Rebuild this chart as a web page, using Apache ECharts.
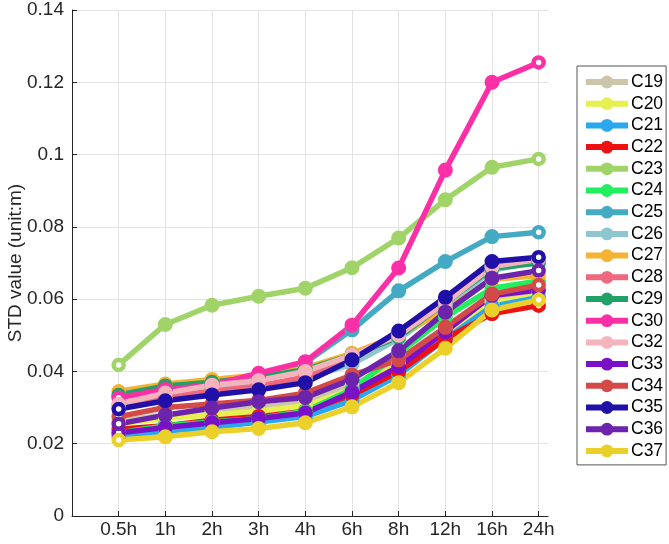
<!DOCTYPE html>
<html>
<head>
<meta charset="utf-8">
<script src="https://cdn.jsdelivr.net/npm/echarts@6/dist/echarts.min.js"></script>
<style>
	html, body { margin: 0; padding: 0; background: #fff; }
	#chart { width: 669px; height: 544px; }
</style>
</head>
<body>
<div id="chart"></div>
<script>
	// x labels (plotted at positions 1..10)
	var hours = ['0.5h', '1h', '2h', '3h', '4h', '6h', '8h', '12h', '16h', '24h'];
	var names = ['C19', 'C20', 'C21', 'C22', 'C23', 'C24', 'C25', 'C26', 'C27',
		'C28', 'C29', 'C30', 'C32', 'C33', 'C34', 'C35', 'C36', 'C37'];
	var colors = ['#cdc5a9', '#e6f04e', '#2aa8ee', '#ee1111', '#a0d468', '#22ee5e', '#44aac4', '#8ec6d0', '#f5b233',
		'#f0687e', '#22a06a', '#fc2fa6', '#f4b4bc', '#7a10c8', '#d44a48', '#2010a8', '#6b24ab', '#ecd02a'];

	var C19 = [0.0262, 0.0280, 0.0290, 0.0300, 0.0315, 0.0360, 0.0430, 0.0520, 0.0600, 0.0620];
	var C20 = [0.0255, 0.0270, 0.0280, 0.0290, 0.0305, 0.0350, 0.0420, 0.0510, 0.0590, 0.0610];
	var C21 = [0.0220, 0.0235, 0.0245, 0.0260, 0.0275, 0.0320, 0.0390, 0.0490, 0.0580, 0.0605];
	var C22 = [0.0240, 0.0250, 0.0265, 0.0275, 0.0290, 0.0335, 0.0400, 0.0490, 0.0560, 0.0582];
	var C23 = [0.0418, 0.0530, 0.0583, 0.0608, 0.0630, 0.0687, 0.0769, 0.0875, 0.0965, 0.0988];
	var C24 = [0.0230, 0.0250, 0.0260, 0.0270, 0.0290, 0.0350, 0.0450, 0.0550, 0.0630, 0.0650];
	var C25 = [0.0330, 0.0355, 0.0370, 0.0390, 0.0425, 0.0515, 0.0623, 0.0704, 0.0773, 0.0785];
	var C26 = [0.0310, 0.0330, 0.0350, 0.0360, 0.0380, 0.0420, 0.0490, 0.0580, 0.0680, 0.0705];
	var C27 = [0.0345, 0.0365, 0.0378, 0.0390, 0.0410, 0.0450, 0.0500, 0.0570, 0.0655, 0.0665];
	var C28 = [0.0300, 0.0330, 0.0345, 0.0360, 0.0385, 0.0435, 0.0505, 0.0595, 0.0690, 0.0705];
	var C29 = [0.0335, 0.0360, 0.0370, 0.0385, 0.0405, 0.0445, 0.0495, 0.0590, 0.0685, 0.0700];
	var C30 = [0.0327, 0.0350, 0.0362, 0.0395, 0.0427, 0.0528, 0.0686, 0.0957, 0.1200, 0.1255];
	var C32 = [0.0310, 0.0340, 0.0362, 0.0375, 0.0400, 0.0445, 0.0500, 0.0590, 0.0690, 0.0710];
	var C33 = [0.0230, 0.0245, 0.0258, 0.0270, 0.0285, 0.0343, 0.0413, 0.0510, 0.0610, 0.0625];
	var C34 = [0.0275, 0.0300, 0.0310, 0.0320, 0.0340, 0.0390, 0.0432, 0.0522, 0.0614, 0.0639];
	var C35 = [0.0296, 0.0319, 0.0335, 0.0349, 0.0369, 0.0432, 0.0512, 0.0605, 0.0704, 0.0716];
	var C36 = [0.0255, 0.0279, 0.0299, 0.0316, 0.0328, 0.0378, 0.0457, 0.0564, 0.0658, 0.0679];
	var C37 = [0.0210, 0.0219, 0.0233, 0.0242, 0.0258, 0.0302, 0.0369, 0.0464, 0.0570, 0.0598];

	var allData = [C19, C20, C21, C22, C23, C24, C25, C26, C27,
		C28, C29, C30, C32, C33, C34, C35, C36, C37];

	var font = 'Liberation Sans, Arial, Helvetica, sans-serif';
	var dark = '#262626';

	function makeSeries(i) {
		var vals = allData[i];
		var data = vals.map(function (v, k) {
			var item = { value: [k + 1, v] };
			// first and last markers are drawn as rings (white fill, thick coloured edge)
			if (k === 0 || k === vals.length - 1) {
				item.symbolSize = 10;
				item.itemStyle = { color: '#fff' };
			}
			return item;
		});
		return {
			name: names[i],
			type: 'line',
			data: data,
			symbol: 'circle',
			symbolSize: 10.5,
			color: colors[i],
			lineStyle: { width: 5.5, color: colors[i] },
			itemStyle: { color: colors[i], borderColor: colors[i], borderWidth: 4.5 },
			animation: false
		};
	}

	var series = [];
	for (var i = 0; i < names.length; i++) {
		series.push(makeSeries(i));
	}

	var chart = echarts.init(document.getElementById('chart'));
	chart.setOption({
		backgroundColor: '#fff',
		animation: false,
		grid: { left: 72, top: 10, right: 121, bottom: 28, outerBoundsMode: 'none', containLabel: false },
		legend: {
			orient: 'vertical',
			left: 577,
			top: 66,
			itemWidth: 42,
			itemHeight: 16,
			itemGap: 3.7,
			padding: [7, 3, 5, 6],
			borderColor: '#555',
			borderWidth: 1,
			lineStyle: { width: 6 },
			itemStyle: { borderWidth: 0 },
			textStyle: { fontFamily: font, fontSize: 17.5, color: '#000', padding: [0, 0, 0, -2] },
			data: names
		},
		xAxis: {
			type: 'value',
			min: 0,
			max: 10.2,
			interval: 1,
			axisLine: { show: true, lineStyle: { color: dark, width: 1 } },
			axisTick: { show: true, inside: true, length: 5, lineStyle: { color: dark } },
			axisLabel: {
				fontFamily: font, fontSize: 19, color: dark, margin: 4,
				showMaxLabel: false,
				formatter: function (v) {
					var k = Math.round(v);
					if (Math.abs(v - k) > 1e-6 || k < 1 || k > hours.length) return '';
					return hours[k - 1];
				}
			},
			splitLine: { show: true, showMinLine: false, showMaxLine: false, lineStyle: { color: '#e3e3e3', width: 1 } }
		},
		yAxis: {
			type: 'value',
			min: 0,
			max: 0.14,
			interval: 0.02,
			name: 'STD value (unit:m)',
			nameLocation: 'middle',
			nameGap: 47,
			nameMoveOverlap: false,
			nameTextStyle: { fontFamily: font, fontSize: 19, color: dark },
			axisLine: { show: true, lineStyle: { color: dark, width: 1 } },
			axisTick: { show: true, inside: true, length: 5, lineStyle: { color: dark } },
			axisLabel: { fontFamily: font, fontSize: 19, color: dark, margin: 8 },
			splitLine: { show: true, lineStyle: { color: '#e3e3e3', width: 1 } }
		},
		series: series
	});
</script>
</body>
</html>
